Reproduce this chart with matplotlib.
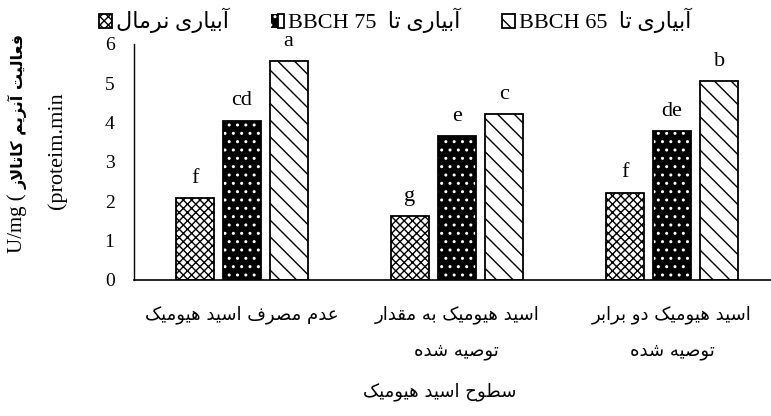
import numpy as np
import matplotlib
matplotlib.use('Agg')
import matplotlib.pyplot as plt
from matplotlib import font_manager, ft2font
from matplotlib.legend_handler import HandlerTuple

# ---------------- data ----------------
categories = ["عدم مصرف اسید هیومیک",
              "اسید هیومیک به مقدار\nتوصیه شده",
              "اسید هیومیک دو برابر\nتوصیه شده"]
series_names = ["آبیاری نرمال", "آبیاری تا  BBCH 75", "آبیاری تا  BBCH 65"]
normal = [2.09, 1.62, 2.22]
bbch75 = [4.05, 3.66, 3.79]
bbch65 = [5.56, 4.22, 5.06]
letters_normal = ['f', 'g', 'f']
letters_75 = ['cd', 'e', 'de']
letters_65 = ['a', 'c', 'b']
y_ticks = [0, 1, 2, 3, 4, 5, 6]
y_label_fa = "فعالیت آنزیم کاتالاز"
y_label_unit1 = "U/mg ("
y_label_line2 = "(proteim.min"
x_label = "سطوح اسید هیومیک"

# ---------------- Persian shaping (presentation forms) ----------------
_F = {
    '\u0627': ('\uFE8D', '\uFE8E', None, None),
    '\u0622': ('\uFE81', '\uFE82', None, None),
    '\u0628': ('\uFE8F', '\uFE90', '\uFE91', '\uFE92'),
    '\u062A': ('\uFE95', '\uFE96', '\uFE97', '\uFE98'),
    '\u062D': ('\uFEA1', '\uFEA2', '\uFEA3', '\uFEA4'),
    '\u062F': ('\uFEA9', '\uFEAA', None, None),
    '\u0631': ('\uFEAD', '\uFEAE', None, None),
    '\u0632': ('\uFEAF', '\uFEB0', None, None),
    '\u0633': ('\uFEB1', '\uFEB2', '\uFEB3', '\uFEB4'),
    '\u0634': ('\uFEB5', '\uFEB6', '\uFEB7', '\uFEB8'),
    '\u0635': ('\uFEB9', '\uFEBA', '\uFEBB', '\uFEBC'),
    '\u0637': ('\uFEC1', '\uFEC2', '\uFEC3', '\uFEC4'),
    '\u0639': ('\uFEC9', '\uFECA', '\uFECB', '\uFECC'),
    '\u0641': ('\uFED1', '\uFED2', '\uFED3', '\uFED4'),
    '\u0642': ('\uFED5', '\uFED6', '\uFED7', '\uFED8'),
    '\u0644': ('\uFEDD', '\uFEDE', '\uFEDF', '\uFEE0'),
    '\u0645': ('\uFEE1', '\uFEE2', '\uFEE3', '\uFEE4'),
    '\u0646': ('\uFEE5', '\uFEE6', '\uFEE7', '\uFEE8'),
    '\u0647': ('\uFEE9', '\uFEEA', '\uFEEB', '\uFEEC'),
    '\u0648': ('\uFEED', '\uFEEE', None, None),
    '\u06CC': ('\uFBFC', '\uFBFD', '\uFBFE', '\uFBFF'),
    '\u06A9': ('\uFB8E', '\uFB8F', '\uFB90', '\uFB91'),
}
try:
    _cm = ft2font.FT2Font(font_manager.findfont('DejaVu Sans')).get_charmap()
    if 0xFBFC not in _cm:
        _F['\u06CC'] = ('\uFEEF', '\uFEF0', '\uFEF3', '\uFEF4')
    if 0xFB8E not in _cm:
        _F['\u06A9'] = ('\uFED9', '\uFEDA', '\uFEDB', '\uFEDC')
except Exception:
    pass


def _dual(c):
    return c in _F and _F[c][2] is not None


def shape(text):
    out = []
    i, n = 0, len(text)
    while i < n:
        c = text[i]
        if c not in _F:
            out.append(c)
            i += 1
            continue
        jp = i > 0 and _dual(text[i - 1])
        if c == '\u0644' and i + 1 < n and text[i + 1] in ('\u0627', '\u0622'):
            if text[i + 1] == '\u0627':
                out.append('\uFEFC' if jp else '\uFEFB')
            else:
                out.append('\uFEF6' if jp else '\uFEF5')
            i += 2
            continue
        jn = _dual(c) and i + 1 < n and text[i + 1] in _F
        iso, fin, ini, med = _F[c]
        out.append(med if (jp and jn) else fin if jp else ini if jn else iso)
        i += 1
    return ''.join(out)


def _is_rtl(c):
    return '\u0600' <= c <= '\u06FF' or '\uFB50' <= c <= '\uFEFF'


def visual_line(line):
    if not any(_is_rtl(c) for c in line):
        return line
    types = ['R' if _is_rtl(c) else ('L' if c.isalnum() else 'N') for c in line]
    res = types[:]
    n = len(line)
    i = 0
    while i < n:
        if types[i] == 'N':
            j = i
            while j < n and types[j] == 'N':
                j += 1
            before = res[i - 1] if i > 0 else 'R'
            after = types[j] if j < n else 'R'
            d = before if before == after else 'R'
            for k in range(i, j):
                res[k] = d
            i = j
        else:
            i += 1
    runs = []
    for c, t in zip(line, res):
        if runs and runs[-1][0] == t:
            runs[-1][1].append(c)
        else:
            runs.append([t, [c]])
    parts = []
    for t, chars in reversed(runs):
        s = ''.join(chars)
        parts.append(shape(s)[::-1] if t == 'R' else s)
    return ''.join(parts)


def vis(text):
    return '\n'.join(visual_line(l) for l in text.split('\n'))


# ---------------- figure ----------------
plt.rcParams['hatch.linewidth'] = 1.0
SERIF = ['Liberation Serif', 'DejaVu Sans']
PERS = ['DejaVu Sans']

W, H = 771, 416
fig = plt.figure(figsize=(W / 100, H / 100), dpi=100)
ax = fig.add_axes([134 / W, 136 / H, (W - 134) / W, 236 / H])

x = np.arange(len(categories))
pitch = 0.2186
bw = 0.1767

b1 = ax.bar(x - pitch, normal, bw, facecolor='white', edgecolor='black',
            hatch='xxxx', linewidth=1.3, zorder=2)
b2f = ax.bar(x, bbch75, bw, facecolor='black', edgecolor='white',
             hatch='..', linewidth=0, zorder=2)
b2o = ax.bar(x, bbch75, bw, fill=False, edgecolor='black', linewidth=1.3, zorder=3)
b3 = ax.bar(x + pitch, bbch65, bw, facecolor='white', edgecolor='black',
            hatch='\\\\', linewidth=1.3, zorder=2)

for xs, vals, labs in [(x - pitch, normal, letters_normal),
                       (x, bbch75, letters_75),
                       (x + pitch, bbch65, letters_65)]:
    for xi, v, lab in zip(xs, vals, labs):
        ax.annotate(lab, (xi, v), xytext=(0, 11), textcoords='offset points',
                    ha='center', va='baseline', fontsize=16, family=SERIF)

ax.set_xlim(-0.5, 2.46)
ax.set_ylim(0, 6)
ax.set_yticks(y_ticks)
ax.set_yticklabels([str(t) for t in y_ticks], family=SERIF, fontsize=14)
ax.tick_params(axis='y', length=0, pad=14)
ax.set_xticks(x)
ax.set_xticklabels([vis(c) for c in categories], family=PERS, fontsize=13,
                   linespacing=2.3)
ax.tick_params(axis='x', length=0, pad=18)
for s in ['top', 'right']:
    ax.spines[s].set_visible(False)
ax.spines['left'].set_linewidth(1.0)
ax.spines['bottom'].set_linewidth(1.2)

# y label: first line in two pieces (Latin serif + bold Persian), second line
t_unit = fig.text(17 / W, 1 - 253 / H, y_label_unit1, rotation=90, ha='center',
                  va='bottom', fontsize=15, family=SERIF)
fig.canvas.draw()
ext = t_unit.get_window_extent()
fig.text(18 / W, (ext.y1 + 4) / H, vis(y_label_fa), rotation=90, ha='center',
         va='bottom', fontsize=11.5, family=PERS, fontweight='bold')
fig.text(57 / W, 1 - 151 / H, vis(y_label_line2), rotation=90, ha='center',
         va='center', fontsize=16, family=SERIF)
# x label
fig.text(440 / W, 1 - 392 / H, vis(x_label), ha='center', va='center',
         fontsize=13, family=PERS)

# legend
handles = [b1[0], (b2f[0], b2o[0]), b3[0]]
leg = fig.legend(handles, [vis(s) for s in series_names], ncol=3,
                 loc='upper left', bbox_to_anchor=(99 / W, 1 - 8 / H),
                 frameon=False, borderpad=0, borderaxespad=0,
                 handlelength=0.6, handleheight=0.6, handletextpad=0.15,
                 columnspacing=1.9, prop={'family': SERIF, 'size': 16},
                 handler_map={tuple: HandlerTuple(ndivide=None, pad=0)})

fig.savefig('out.png', dpi=100)
